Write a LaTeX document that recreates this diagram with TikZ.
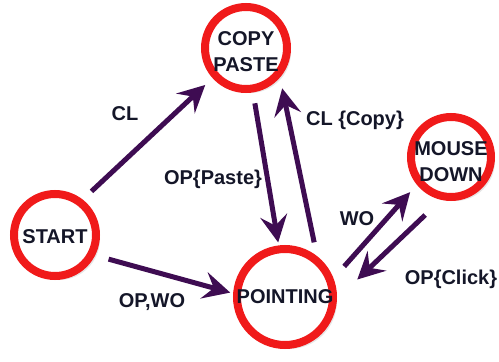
\documentclass[tikz,border=0pt]{standalone}
\usepackage{fontspec}
\setmainfont{Liberation Sans}
\usetikzlibrary{arrows.meta,shadows}
\definecolor{ringred}{RGB}{240,26,26}
\definecolor{arrowpurple}{RGB}{62,12,82}
\definecolor{txt}{RGB}{20,22,40}
\begin{document}
\begin{tikzpicture}[x=1pt,y=-1pt,
  state/.style={circle,draw=ringred,line width=8pt,fill=white,inner sep=0pt,
    drop shadow={shadow xshift=4pt,shadow yshift=-4pt,opacity=0.2}},
  stname/.style={font=\bfseries\fontsize{20}{26}\selectfont,text=txt,align=center,inner sep=0pt},
  trans/.style={draw=arrowpurple,line width=5pt,-{Stealth[length=27pt,width=27pt,inset=10pt]}},
  tlabel/.style={font=\bfseries\fontsize{20}{24}\selectfont,text=txt,inner sep=0pt,text height=14.3pt,text depth=0pt}]
\useasboundingbox (0,0) rectangle (499,362);

\node[state,minimum size=82pt,label={[stname,yshift=-4pt]center:COPY\\PASTE}] (copy) at (246,48) {};
\node[state,minimum size=82pt,label={[stname,yshift=-2pt]center:START}] (start) at (55,235) {};
\node[state,minimum size=96pt,label={[stname]center:POINTING}] (pointing) at (285,297) {};
\node[state,minimum size=80pt,label={[stname,yshift=-5pt]center:MOUSE\\DOWN}] (mouse) at (451,157) {};

\draw[trans,shorten <=12pt,shorten >=10pt] (start.52) -- (copy.222);
\draw[trans,shorten <=11pt,shorten >=3pt] (copy.279) -- (pointing.97);
\draw[trans,shorten <=14pt,shorten >=11pt] (pointing.52) -- (copy.319);
\draw[trans,shorten <=16pt,shorten >=10pt] (pointing.21) -- (mouse.219);
\draw[trans,shorten <=22pt,shorten >=28pt] (mouse.257) -- (pointing.-2);
\draw[trans,shorten <=14pt,shorten >=3pt] (start.-27) -- (pointing.176);

\node[tlabel] (lcl) at (125,113) {CL};
\node[tlabel] (lpaste) at (213,177) {OP\{Paste\}};
\node[tlabel] (lcopy) at (355,118) {CL \{Copy\}};
\node[tlabel] (lwo) at (357,218) {WO};
\node[tlabel] (lclick) at (451,277) {OP\{Click\}};
\node[tlabel] (lopwo) at (152,300) {OP,WO};
\end{tikzpicture}
\end{document}
